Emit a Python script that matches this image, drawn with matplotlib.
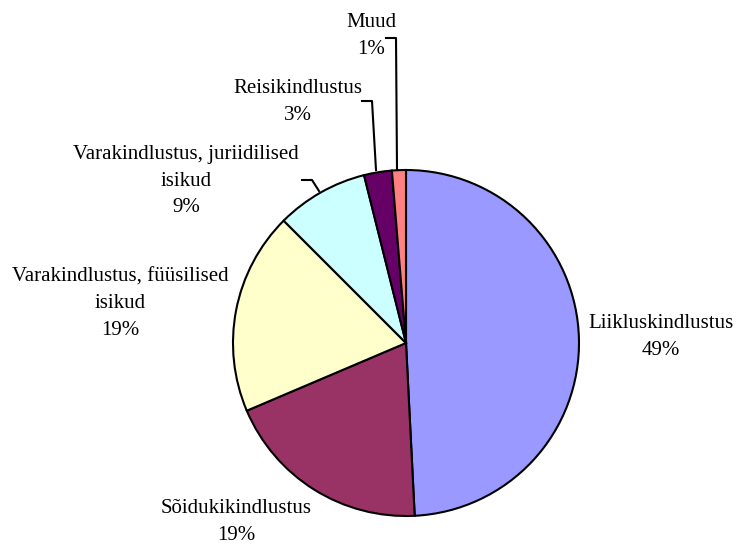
import matplotlib.pyplot as plt

# Andmed
labels = ['Liikluskindlustus', 'Sõidukikindlustus', 'Varakindlustus, füüsilised\nisikud',
          'Varakindlustus, juriidilised\nisikud', 'Reisikindlustus', 'Muud']
shares = [49.2, 19.4, 18.9, 8.6, 2.6, 1.3]
colors = ['#9999FF', '#993366', '#FFFFCC', '#CCFFFF', '#660066', '#FF8080']

W, H = 736, 547
fig = plt.figure(figsize=(W / 100, H / 100), dpi=100)
ax = fig.add_axes([0, 0, 1, 1])

# Pie (y-telg pööratud, seega counterclock=True annab päripäeva)
ax.pie(shares, colors=colors, startangle=-90, counterclock=True,
       center=(406, 343), radius=173, frame=True,
       wedgeprops=dict(edgecolor='black', linewidth=1.5))
ax.set_xlim(0, W)
ax.set_ylim(H, 0)
ax.axis('off')

font = dict(family='Liberation Serif', fontsize=15, ha='center', va='center',
            linespacing=1.55)

pos = [(661, 337), (236, 522), (120, 304), (186, 181), (298, 102), (371, 36)]
for lab, s, (x, y) in zip(labels, shares, pos):
    ax.text(x, y, f'{lab}\n{round(s):.0f}%', **font)

# Juhtjooned
ax.plot([386, 396, 397], [38, 38, 169], color='black', lw=1.5)
ax.plot([362, 372, 376], [101, 101, 170], color='black', lw=1.5)
ax.plot([302, 312, 319], [180, 180, 191], color='black', lw=1.5)

fig.savefig('out.png', dpi=100)
